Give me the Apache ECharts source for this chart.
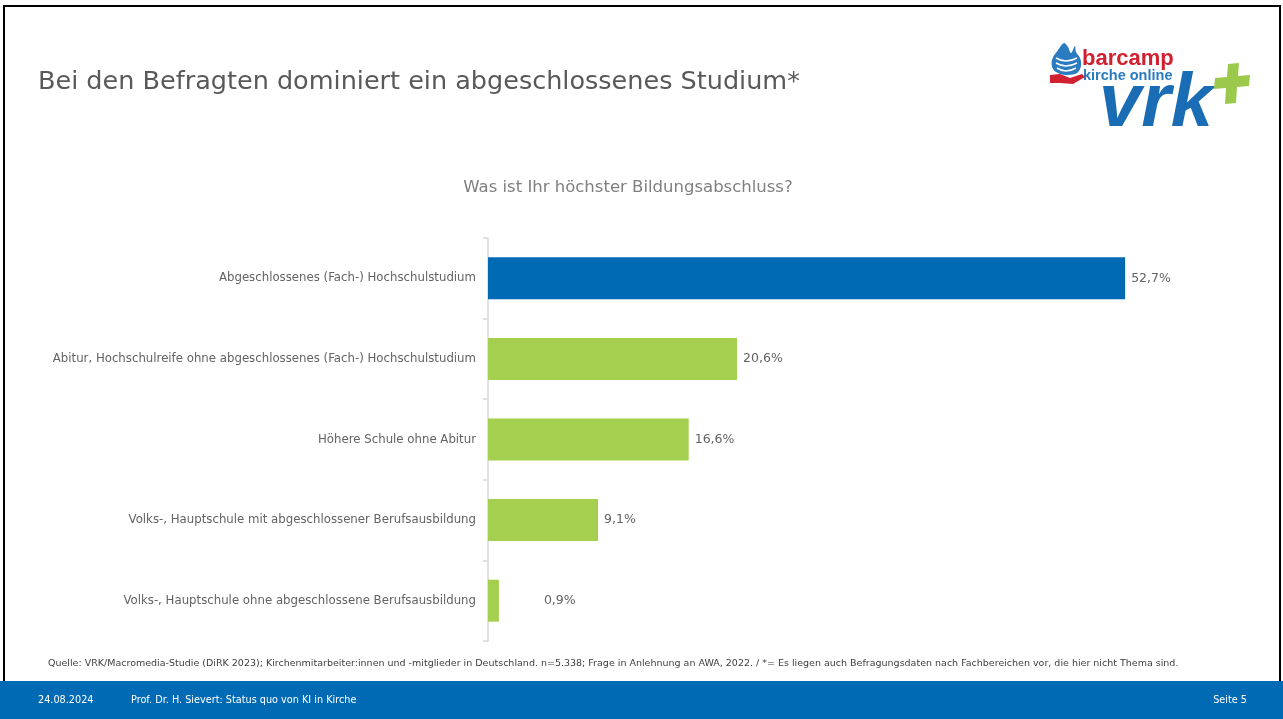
<!DOCTYPE html>
<html><head><meta charset="utf-8">
<script src="https://cdn.jsdelivr.net/npm/echarts@6/dist/echarts.min.js"></script>
<style>html,body{margin:0;padding:0;background:#fff;}#c{width:1283px;height:719px;}</style>
</head><body><div id="c"></div>
<script>
const categories = [
  'Abgeschlossenes (Fach-) Hochschulstudium',
  'Abitur, Hochschulreife ohne abgeschlossenes (Fach-) Hochschulstudium',
  'Höhere Schule ohne Abitur',
  'Volks-, Hauptschule mit abgeschlossener Berufsausbildung',
  'Volks-, Hauptschule ohne abgeschlossene Berufsausbildung'
];
const values = [52.7, 20.6, 16.6, 9.1, 0.9];
const titleText = 'Bei den Befragten dominiert ein abgeschlossenes Studium*';
const subtitleText = 'Was ist Ihr höchster Bildungsabschluss?';
const sourceText = 'Quelle: VRK/Macromedia-Studie (DiRK 2023); Kirchenmitarbeiter:innen und -mitglieder in Deutschland. n=5.338; Frage in Anlehnung an AWA, 2022. / *= Es liegen auch Befragungsdaten nach Fachbereichen vor, die hier nicht Thema sind.';
const footerDate = '24.08.2024';
const footerAuthor = 'Prof. Dr. H. Sievert: Status quo von KI in Kirche';
const footerPage = 'Seite 5';

const BLUE = '#006ab5', GREEN = '#a5cf4f', FONT = "'DejaVu Sans', Verdana, sans-serif";
const chart = echarts.init(document.getElementById('c'));
chart.setOption({
  animation: false,
  backgroundColor: '#fff',
  grid: { left: 488, top: 238, height: 403, width: 725.4, containLabel: false },
  xAxis: { type: 'value', min: 0, max: 60, show: false },
  yAxis: {
    type: 'category', inverse: true, data: categories,
    axisLine: { show: true, lineStyle: { color: '#d9d9d9', width: 1.5 } },
    axisTick: { show: true, length: 5, lineStyle: { color: '#d9d9d9', width: 1.5 } },
    axisLabel: { color: '#636363', fontSize: 11.75, fontFamily: FONT, margin: 12 }
  },
  series: [{
    type: 'bar', barWidth: 42,
    data: values.map((v, i) => ({
      value: v,
      itemStyle: { color: i === 0 ? BLUE : GREEN },
      label: { distance: i === values.length - 1 ? 45 : 6 }
    })),
    label: {
      show: true, position: 'right', color: '#636363', fontSize: 12.5, fontFamily: FONT,
      formatter: p => p.value.toFixed(1).replace('.', ',') + '%'
    }
  }],
  graphic: [
    { type: 'rect', shape: { x: 4, y: 6, width: 1276, height: 720 }, style: { fill: 'none', stroke: '#000', lineWidth: 2 }, silent: true },
    { type: 'rect', shape: { x: 0, y: 681, width: 1283, height: 38 }, style: { fill: BLUE } },
    { type: 'text', x: 38, y: 82, style: { text: titleText, fill: '#595959', font: '25.5px ' + FONT, verticalAlign: 'middle' } },
    { type: 'text', x: 628, y: 188, style: { text: subtitleText, fill: '#7f7f7f', font: '16.5px ' + FONT, align: 'center', verticalAlign: 'middle' } },
    { type: 'text', x: 48, y: 664, style: { text: sourceText, fill: '#404040', font: '9.5px ' + FONT, verticalAlign: 'middle' } },
    { type: 'text', x: 38, y: 700, style: { text: footerDate, fill: '#fff', font: '9.7px ' + FONT, verticalAlign: 'middle' } },
    { type: 'text', x: 131, y: 700, style: { text: footerAuthor, fill: '#fff', font: '9.7px ' + FONT, verticalAlign: 'middle' } },
    { type: 'text', x: 1247, y: 700, style: { text: footerPage, fill: '#fff', font: '9.7px ' + FONT, align: 'right', verticalAlign: 'middle' } },
    // logo
    { type: 'text', x: 1099, y: 105, style: { text: 'vrk', fill: '#1a6cb5', font: 'italic bold 76px "Liberation Sans", Arial, sans-serif', verticalAlign: 'middle' } },
    { type: 'text', x: 1082, y: 59, style: { text: 'barcamp', fill: '#d1202f', font: 'bold 22px "Liberation Sans", Arial, sans-serif', verticalAlign: 'middle' } },
    { type: 'text', x: 1083, y: 76, style: { text: 'kirche online', fill: '#2a7bc0', font: 'bold 14.5px "Liberation Sans", Arial, sans-serif', verticalAlign: 'middle' } },
    { type: 'polygon', shape: { points: [[1228,64],[1239,63],[1238,76],[1250,75],[1249,86],[1237,87],[1236,103],[1225,104],[1226,88],[1214,89],[1215,78],[1227,77]] }, style: { fill: '#9bc94b' } },
    { type: 'polygon', shape: { smooth: 0.35, points: [[1064,43],[1058,50],[1052,60],[1053,69],[1060,74],[1068,75],[1077,73],[1081,66],[1080,58],[1076,52],[1075,46],[1071,53],[1068,47]] }, style: { fill: '#2a7bc0' } },
    { type: 'polyline', shape: { smooth: 0.5, points: [[1056,58],[1066,61],[1077,58]] }, style: { stroke: '#fff', lineWidth: 1.6, fill: 'none' } },
    { type: 'polyline', shape: { smooth: 0.5, points: [[1056,63],[1066,66],[1077,63]] }, style: { stroke: '#fff', lineWidth: 1.6, fill: 'none' } },
    { type: 'polyline', shape: { smooth: 0.5, points: [[1057,68],[1066,71],[1076,68]] }, style: { stroke: '#fff', lineWidth: 1.6, fill: 'none' } },
    { type: 'polygon', shape: { points: [[1050,75],[1060,74],[1070,78],[1082,74],[1085,77],[1073,84],[1060,83],[1050,83]] }, style: { fill: '#d1202f' } }
  ]
});
</script></body></html>
